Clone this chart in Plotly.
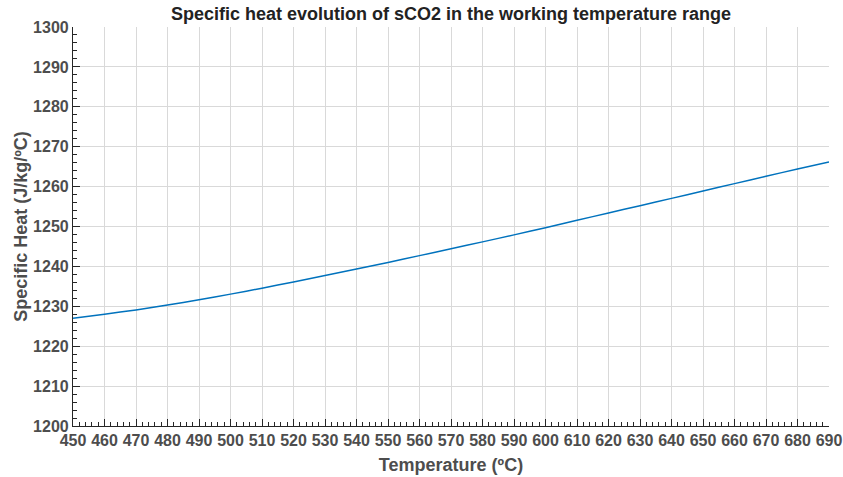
import plotly.graph_objects as go

temperature = [450, 460, 470, 480, 490, 500, 510, 520, 530, 540, 550, 560, 570,
               580, 590, 600, 610, 620, 630, 640, 650, 660, 670, 680, 690]
specific_heat = [1227.0, 1228.0, 1229.1, 1230.3, 1231.65, 1233.05, 1234.55, 1236.1,
                 1237.7, 1239.35, 1241.0, 1242.7, 1244.4, 1246.15, 1247.9, 1249.7,
                 1251.55, 1253.4, 1255.2, 1257.05, 1258.9, 1260.75, 1262.6, 1264.4, 1266.2]

title_text = "Specific heat evolution of sCO2 in the working temperature range"
x_title = "Temperature (ºC)"
y_title = "Specific Heat (J/kg/ºC)"

font_family = "Liberation Sans, Arial, sans-serif"

fig = go.Figure()
fig.add_trace(go.Scatter(x=temperature, y=specific_heat, mode="lines",
                         line=dict(color="#0072BD", width=1.5, shape="spline", smoothing=0.6),
                         showlegend=False))

axis_common = dict(
    showline=True, linecolor="#262626", linewidth=1.2,
    ticks="inside", ticklen=7, tickwidth=1, tickcolor="#262626",
    showgrid=True, gridcolor="#d9d9d9", gridwidth=1,
    zeroline=False, mirror=False, automargin=False,
    tickfont=dict(family=font_family, size=16, color="#4d4d4d", weight="bold"),
    minor=dict(ticks="inside", ticklen=4, tickcolor="#262626", tickwidth=1,
               dtick=2, showgrid=False),
)

fig.update_layout(
    width=843, height=477,
    margin=dict(l=73, r=14, t=27, b=51),
    paper_bgcolor="white", plot_bgcolor="white",
    title=dict(text=title_text, x=0.535, xanchor="center", y=0.971, yanchor="middle",
               font=dict(family=font_family, size=18, color="#222222", weight="bold")),
    xaxis=dict(range=[450, 690], dtick=10, tick0=450,
               title=dict(text=x_title, standoff=10,
                          font=dict(family=font_family, size=18, color="#4d4d4d", weight="bold")),
               **axis_common),
    yaxis=dict(range=[1200, 1300], dtick=10, tick0=1200,
               title=dict(text=y_title, standoff=0,
                          font=dict(family=font_family, size=18, color="#4d4d4d", weight="bold")),
               **axis_common),
)

fig.write_html("out.html")
